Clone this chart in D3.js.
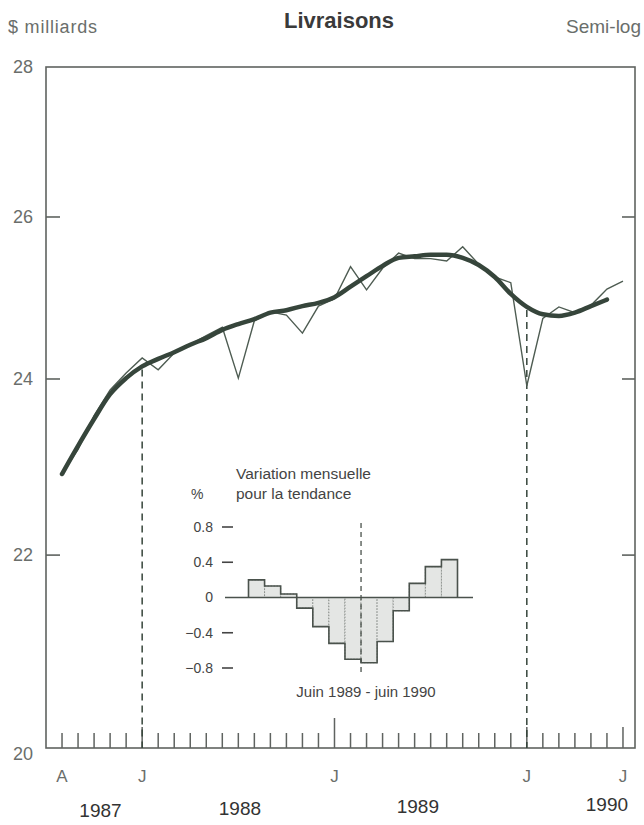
<!DOCTYPE html>
<html>
<head>
<meta charset="utf-8">
<script src="https://cdn.jsdelivr.net/npm/d3@7"></script>
<style>
  html, body { margin: 0; padding: 0; background: #ffffff; }
  svg { display: block; }
  text { font-family: "Liberation Sans", "DejaVu Sans", sans-serif; }
</style>
</head>
<body>
<div id="chart"></div>
<script>
// ---------- DATA ----------
const months = ["1987-08","1987-09","1987-10","1987-11","1987-12",
  "1988-01","1988-02","1988-03","1988-04","1988-05","1988-06","1988-07","1988-08","1988-09","1988-10","1988-11","1988-12",
  "1989-01","1989-02","1989-03","1989-04","1989-05","1989-06","1989-07","1989-08","1989-09","1989-10","1989-11","1989-12",
  "1990-01","1990-02","1990-03","1990-04","1990-05","1990-06","1990-07"];
const monthLabels = ["A","","","","","J","","","","","","","","","","","","J","","","","","","","","","","","","J","","","","","","J"];
// Livraisons mensuelles ($ milliards)
const shipments = [22.90,23.18,23.57,23.87,24.07,24.25,24.11,24.31,24.41,24.52,24.62,24.01,24.70,24.81,24.77,24.55,24.88,
  24.97,25.37,25.08,25.35,25.54,25.47,25.47,25.44,25.62,25.40,25.24,25.17,23.92,24.73,24.87,24.80,24.89,25.09,25.19];
// Tendance
const trend = [22.90,23.22,23.53,23.82,24.01,24.15,24.24,24.32,24.41,24.49,24.59,24.66,24.72,24.80,24.83,24.88,24.92,
  24.99,25.12,25.25,25.38,25.48,25.50,25.52,25.52,25.48,25.39,25.24,25.03,24.87,24.78,24.76,24.80,24.88,24.96];
const yTicks = [20,22,24,26,28];
const years = ["1987","1988","1989","1990"];
const yearAnchor = [2.4, 11.1, 22.2, 34.0];   // in month-index units
const markMonths = ["1988-01","1990-01"];       // dashed reference lines

// Inset: variation mensuelle pour la tendance (%), juin 1989 - juin 1990
const insetMonths = ["1989-06","1989-07","1989-08","1989-09","1989-10","1989-11","1989-12",
  "1990-01","1990-02","1990-03","1990-04","1990-05","1990-06"];
const insetChange = [0.20,0.13,0.04,-0.12,-0.33,-0.52,-0.70,-0.74,-0.50,-0.15,0.16,0.35,0.43];
const insetTicks = [0.8,0.4,0,-0.4,-0.8];

// ---------- LAYOUT ----------
const W = 644, H = 825;
const svg = d3.select("#chart").append("svg").attr("width", W).attr("height", H);

const frame = {left: 46, right: 635, top: 67, bottom: 748};
const x = d3.scaleLinear().domain([-1, 35.75]).range([frame.left, frame.right]);
const y = d3.scaleLog().domain([20, 28]).range([frame.bottom, frame.top]);

const lineCol = "#36453b";
const frameCol = "#5f6360";
const lightText = "#6a6e6b";

// Header texts
svg.append("text").attr("x", 8).attr("y", 33).attr("font-size", 18).attr("font-weight", 300)
  .attr("letter-spacing", 0.8).attr("fill", lightText).text("$ milliards");
svg.append("text").attr("x", 339).attr("y", 28).attr("text-anchor", "middle").attr("font-size", 22)
  .attr("font-weight", "bold").attr("fill", "#3a3a3a").text("Livraisons");
svg.append("text").attr("x", 641).attr("y", 33).attr("text-anchor", "end").attr("font-size", 19)
  .attr("font-weight", 300).attr("fill", lightText).text("Semi-log");

// Frame
svg.append("rect").attr("x", frame.left).attr("y", frame.top)
  .attr("width", frame.right - frame.left).attr("height", frame.bottom - frame.top)
  .attr("fill", "none").attr("stroke", frameCol).attr("stroke-width", 1.6);

// Y axis labels & inward ticks
svg.selectAll("text.ylab").data(yTicks).join("text").attr("class", "ylab")
  .attr("x", 33).attr("y", d => y(d) + (d === 20 ? 6 : 0)).attr("dy", "0.35em").attr("text-anchor", "end")
  .attr("font-size", 18).attr("fill", lightText).text(d => d);
const innerY = yTicks.filter(d => d > 20 && d < 28);
svg.selectAll("line.ytl").data(innerY).join("line").attr("class", "ytl")
  .attr("x1", frame.left).attr("x2", frame.left + 14).attr("y1", d => y(d)).attr("y2", d => y(d))
  .attr("stroke", frameCol).attr("stroke-width", 1.6);
svg.selectAll("line.ytr").data(innerY).join("line").attr("class", "ytr")
  .attr("x1", frame.right - 13).attr("x2", frame.right).attr("y1", d => y(d)).attr("y2", d => y(d))
  .attr("stroke", frameCol).attr("stroke-width", 1.6);

// X ticks (monthly)
svg.selectAll("line.xt").data(months).join("line").attr("class", "xt")
  .attr("x1", (d, i) => x(i)).attr("x2", (d, i) => x(i))
  .attr("y1", frame.bottom)
  .attr("y2", (d, i) => frame.bottom - (d === "1989-01" ? 30 : (monthLabels[i] === "J" ? 21 : 15)))
  .attr("stroke", frameCol).attr("stroke-width", 1.5);

// Month labels
svg.selectAll("text.ml").data(months).join("text").attr("class", "ml")
  .attr("x", (d, i) => x(i)).attr("y", 782).attr("text-anchor", "middle")
  .attr("font-size", 17).attr("font-weight", 300).attr("fill", lightText)
  .text((d, i) => monthLabels[i]);

// Year labels
svg.selectAll("text.yr").data(years).join("text").attr("class", "yr")
  .attr("x", (d, i) => x(yearAnchor[i])).attr("y", (d, i) => 817 - i * 2)
  .attr("text-anchor", "middle").attr("font-size", 19).attr("fill", "#333").text(d => d);

// Dashed reference lines
markMonths.forEach(m => {
  const i = months.indexOf(m);
  svg.append("line").attr("x1", x(i)).attr("x2", x(i))
    .attr("y1", y(trend[i]) + 3).attr("y2", frame.bottom)
    .attr("stroke", lineCol).attr("stroke-width", 1.5).attr("stroke-dasharray", "7,5");
});

// Lines
const line = d3.line().x((d, i) => x(i)).y(d => y(d));
svg.append("path").datum(shipments).attr("d", line).attr("fill", "none")
  .attr("stroke", "#4e5c52").attr("stroke-width", 1.4).attr("stroke-linejoin", "miter");
svg.append("path").datum(trend).attr("d", line.curve(d3.curveMonotoneX)).attr("fill", "none")
  .attr("stroke", lineCol).attr("stroke-width", 4.5).attr("stroke-linecap", "round");

// ---------- INSET ----------
const ix = d3.scaleBand().domain(insetMonths).range([248.5, 457.5]).padding(0);
const iy = d3.scaleLinear().domain([-0.8, 0.8]).range([668, 527]);

svg.append("text").attr("x", 236).attr("y", 479).attr("font-size", 15.5).attr("fill", "#444")
  .text("Variation mensuelle");
svg.append("text").attr("x", 236).attr("y", 499).attr("font-size", 15.5).attr("fill", "#444")
  .text("pour la tendance");
svg.append("text").attr("x", 191).attr("y", 499).attr("font-size", 14).attr("fill", "#444").text("%");

svg.selectAll("text.il").data(insetTicks).join("text").attr("class", "il")
  .attr("x", 213).attr("y", d => iy(d)).attr("dy", "0.35em").attr("text-anchor", "end")
  .attr("font-size", 14).attr("fill", "#444").text(d => d === 0 ? "0" : d3.format(".1f")(d));
svg.selectAll("line.itk").data(insetTicks.filter(d => d !== 0)).join("line").attr("class", "itk")
  .attr("x1", 222).attr("x2", 233).attr("y1", d => iy(d)).attr("y2", d => iy(d))
  .attr("stroke", "#444").attr("stroke-width", 1.6);

// Bars
svg.selectAll("rect.bar").data(insetChange).join("rect").attr("class", "bar")
  .attr("x", (d, i) => ix(insetMonths[i])).attr("width", ix.bandwidth())
  .attr("y", d => iy(Math.max(0, d))).attr("height", d => Math.abs(iy(d) - iy(0)))
  .attr("fill", "#e4e6e4").attr("stroke", "#8a8f8b").attr("stroke-width", 1)
  .attr("stroke-dasharray", "1.5,1.5");

// Envelope step outline
let env = `M${ix(insetMonths[0])},${iy(0)}`;
insetChange.forEach((d, i) => {
  const x0 = ix(insetMonths[i]), x1 = x0 + ix.bandwidth();
  env += `L${x0},${iy(d)}L${x1},${iy(d)}`;
});
env += `L${ix(insetMonths[insetMonths.length - 1]) + ix.bandwidth()},${iy(0)}`;
svg.append("path").attr("d", env).attr("fill", "none").attr("stroke", "#4a524c").attr("stroke-width", 1.6);

// Zero baseline
svg.append("line").attr("x1", 225).attr("x2", 473).attr("y1", iy(0)).attr("y2", iy(0))
  .attr("stroke", "#4a524c").attr("stroke-width", 1.6);

// Dashed line in inset (between Dec 1989 and Jan 1990)
const dX = ix("1990-01");
svg.append("line").attr("x1", dX).attr("x2", dX).attr("y1", 523).attr("y2", 672)
  .attr("stroke", "#4a524c").attr("stroke-width", 1.3).attr("stroke-dasharray", "5,4");

svg.append("text").attr("x", 366).attr("y", 697).attr("text-anchor", "middle")
  .attr("font-size", 15).attr("fill", "#444").text("Juin 1989 - juin 1990");
</script>
</body>
</html>
